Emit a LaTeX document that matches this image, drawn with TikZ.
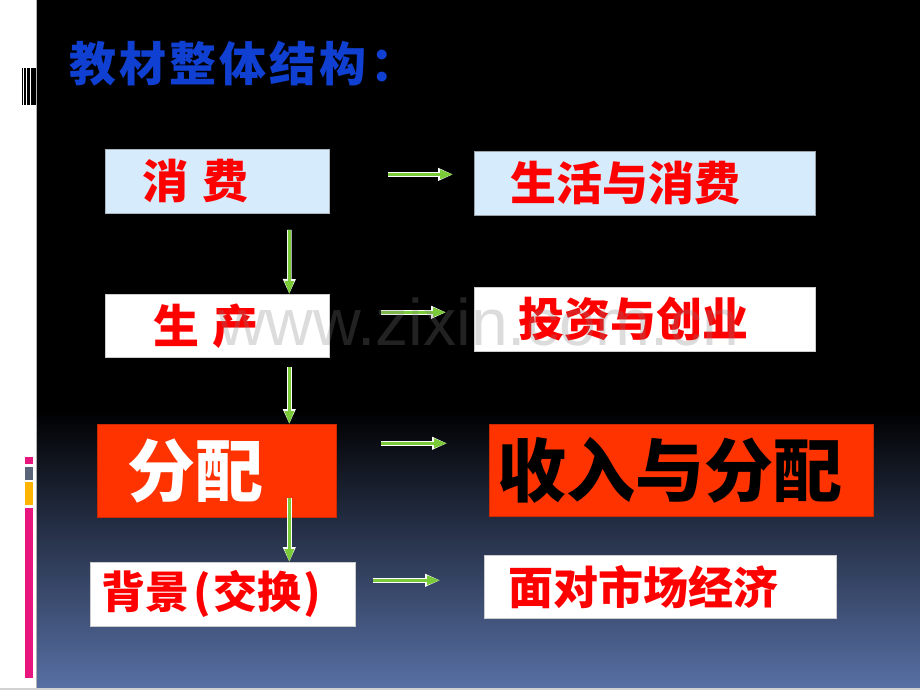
\documentclass[tikz,border=0pt]{standalone}
\usepackage{fontspec}
\newfontfamily\cjk{Noto Sans CJK SC}
\newfontfamily\wmfont{Liberation Sans}
\usetikzlibrary{arrows.meta}
\definecolor{arrgreen}{RGB}{122,202,58}
\definecolor{lblue}{RGB}{214,235,252}
\definecolor{hotred}{RGB}{255,51,0}
\definecolor{ttlblue}{RGB}{16,64,210}
\definecolor{bgblue}{RGB}{88,112,165}
\definecolor{mpink}{RGB}{232,21,126}
\definecolor{mgray}{RGB}{90,100,120}
\definecolor{myellow}{RGB}{255,180,0}
\begin{document}
\begin{tikzpicture}[x=1pt,y=-1pt,
  box/.style={rectangle, anchor=north west, align=left, inner ysep=0pt, font=\cjk\bfseries},
  redtxt/.style={text=red, font=\cjk\bfseries\fontsize{46}{50}\selectfont},
  garrow/.style={draw=arrgreen, line width=3pt, -{Triangle[length=13pt,width=9pt]},
     preaction={draw=white, line width=4.6pt, -{Triangle[length=15pt,width=12pt]}}}
]
\useasboundingbox (0,0) rectangle (920,690);
% background
\fill[white] (0,0) rectangle (920,690);
\fill[black] (37,0) rectangle (920,410);
\shade[top color=black, bottom color=bgblue] (37,410) rectangle (920,690);
\draw[gray!60, line width=1pt] (36.5,0) -- (36.5,690);
\fill[gray!35] (0,687.5) rectangle (920,690);
% barcode
\fill[black] (22,68) rectangle (22.7,105);
\fill[black] (23.7,68) rectangle (24.3,105);
\fill[black] (25.3,68) rectangle (26.3,105);
\fill[black] (27,68) rectangle (30,105);
\fill[black] (30.7,68) rectangle (31.3,105);
\fill[black] (31.8,68) rectangle (35.5,105);
% left markers
\fill[mpink] (25,457) rectangle (33,464);
\fill[mgray] (25,467) rectangle (33,480);
\fill[myellow] (25,482) rectangle (33,505);
\fill[mpink] (25,508) rectangle (33,678);
% title
\node[anchor=base west, inner sep=0pt, text=ttlblue, font=\cjk\bfseries\fontsize{47}{50}\selectfont] (title) at (69,82) {教\hspace{3pt}材\hspace{3pt}整\hspace{3pt}体\hspace{3pt}结\hspace{3pt}构\hspace{4pt}：};
% boxes
\node[box, redtxt, fill=lblue, draw=gray!50!lblue, line width=0.8pt, minimum height=64pt, inner xsep=37pt, text width=150pt] (xf) at (105,149) {消\hspace{14pt}费};
\node[box, redtxt, fill=lblue, draw=gray!70!lblue, line width=0.8pt, minimum height=64pt, inner xsep=36pt, text width=269pt] (sh) at (474,151) {生活与消费};
\node[box, redtxt, fill=white, draw=gray!40, line width=0.6pt, minimum height=63pt, inner xsep=48pt, text width=128pt] (sc) at (105,294) {生\hspace{13pt}产};
\node[box, redtxt, fill=white, draw=gray!40, line width=0.6pt, minimum height=64pt, inner xsep=44pt, text width=253pt] (tz) at (474,287) {投资与创业};
\node[box, fill=hotred, draw=hotred!80!black, line width=0.6pt, minimum height=93pt, inner xsep=30pt, text width=179pt, text=white, font=\cjk\bfseries\fontsize{68}{72}\selectfont] (fp) at (97,424) {分配};
\node[box, fill=hotred, draw=hotred!80!black, line width=0.6pt, minimum height=92pt, inner xsep=8pt, text width=368pt, text=black, font=\cjk\bfseries\fontsize{69}{72}\selectfont] (sr) at (489,424) {收入与分配};
\node[box, fill=white, draw=gray!40, line width=0.6pt, minimum height=64pt, inner xsep=11pt, text width=243pt, text=red, font=\cjk\bfseries\fontsize{44}{48}\selectfont] (bj) at (90,562) {背景\hspace{4pt}(\hspace{3pt}交换\hspace{2pt})};
\node[box, fill=white, draw=gray!40, line width=0.6pt, minimum height=63pt, inner xsep=24pt, text width=304pt, text=red, font=\cjk\bfseries\fontsize{45}{48}\selectfont] (mz) at (484,555) {面对市场经济};
% horizontal arrows
\draw[garrow] ([shift={(58,-7)}]xf.east) -- ([shift={(-21,-9)}]sh.west);
\draw[garrow] ([shift={(51,-13.5)}]sc.east) -- ([shift={(-28,-7)}]tz.west);
\draw[garrow] ([shift={(44,-27.5)}]fp.east) -- ([shift={(-42,-27)}]sr.west);
\draw[garrow] ([shift={(17,-14)}]bj.east) -- ([shift={(-44,-6.5)}]mz.west);
% vertical arrows
\draw[garrow] ([shift={(72,16)}]xf.south) -- ([shift={(72,0)}]sc.north);
\draw[garrow] ([shift={(72,9)}]sc.south) -- ([shift={(72.5,0)}]fp.north);
\draw[garrow] ([shift={(72.5,-20)}]fp.south) -- ([shift={(66.5,0)}]bj.north);
% watermark
\node[anchor=base west, inner sep=0pt, text=gray, opacity=0.27, font=\wmfont\fontsize{66}{70}\selectfont] (wm) at (218,345) {www.zixin.com.cn};
\end{tikzpicture}
\end{document}
